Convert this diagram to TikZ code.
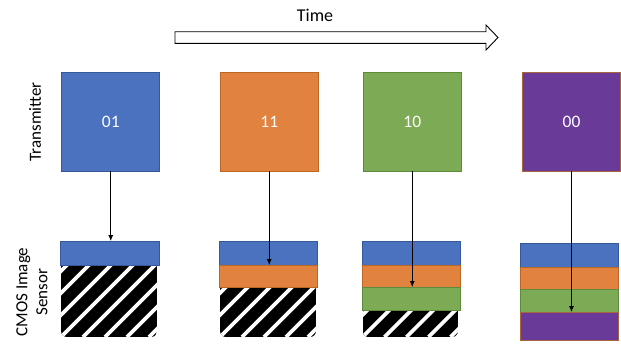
\documentclass[tikz,border=0pt]{standalone}
\usepackage{fontspec}
\setmainfont{Carlito}
\usetikzlibrary{arrows.meta}
\definecolor{cblue}{HTML}{4A72BF}
\definecolor{cblueb}{HTML}{34589A}
\definecolor{corange}{HTML}{E2823F}
\definecolor{coranb}{HTML}{BC6626}
\definecolor{cgreen}{HTML}{7DAA55}
\definecolor{cgreenb}{HTML}{5E8A3C}
\definecolor{cpurple}{HTML}{6A3A98}
\definecolor{cpurpleb}{HTML}{A8643A}
\tikzset{
  sq/.style={draw, line width=0.8pt, minimum width=98pt, minimum height=99pt, inner sep=0pt, outer sep=0pt, text=white, font=\fontsize{17.5}{20}\selectfont},
  bar/.style={draw, line width=0.8pt, minimum width=98.5pt, inner sep=0pt, outer sep=0pt},
  lbl/.style={font=\fontsize{17}{20}\selectfont, align=center, inner sep=0pt},
  link/.style={line width=0.8pt, -{Latex[length=6pt,width=5pt]}},
  stripes/.style={white, line width=3.8pt},
}
\newcommand{\hatchbox}[4]{% x0 y0 x1 y1
  \begin{scope}
    \clip[rounded corners=6pt] (#1,{#2-12}) rectangle (#3,#4);
    \fill[black] (#1,#2) rectangle (#3,#4);
    \foreach \k in {-5,...,6}{
      \draw[stripes] ({#1+\k*22},#4) -- ({#1+\k*22+110},{#4-110});
    }
  \end{scope}
}
\begin{document}
\begin{tikzpicture}[x=1pt,y=-1pt]
\useasboundingbox (0,0) rectangle (621,343);
% time arrow
\node[lbl, font=\fontsize{18}{21}\selectfont] (time) at (315,15) {Time};
\draw[line width=0.9pt, fill=white] (175,31.7) -- (486,31.7) -- (486,25) -- (498,37.5) -- (486,50) -- (486,43.3) -- (175,43.3) -- cycle;
% side labels
\node[lbl, rotate=90] (tx) at (35,122) {Transmitter};
\node[lbl, rotate=90] (rx) at (32,292) {CMOS Image\\Sensor};
% transmitter squares
\node[sq, fill=cblue, draw=cblueb] (t1) at (110.75,121.5) {01};
\node[sq, fill=corange, draw=coranb] (t2) at (269.25,121.5) {11};
\node[sq, fill=cgreen, draw=cgreenb] (t3) at (412.25,121.5) {10};
\node[sq, fill=cpurple, draw=cpurpleb] (t4) at (571.5,121.5) {00};
% sensor column 1
\hatchbox{61}{265}{157}{337}
\node[bar, fill=cblue, draw=cblueb, minimum height=24pt] (s1b) at (110,253) {};
% column 2
\hatchbox{220}{287}{316}{337}
\node[bar, fill=cblue, draw=cblueb, minimum height=24pt] (s2b) at (268.5,253) {};
\node[bar, fill=corange, draw=coranb, minimum height=22pt] (s2o) at (268.5,276) {};
% column 3
\hatchbox{362.5}{310}{458}{337}
\node[bar, fill=cblue, draw=cblueb, minimum height=24pt] (s3b) at (411.5,253) {};
\node[bar, fill=corange, draw=coranb, minimum height=22pt] (s3o) at (411.5,276) {};
\node[bar, fill=cgreen, draw=cgreenb, minimum height=23pt] (s3g) at (411.5,298.5) {};
% column 4
\node[bar, fill=cblue, draw=cblueb, minimum height=24pt] (s4b) at (569.5,255) {};
\node[bar, fill=corange, draw=coranb, minimum height=22pt] (s4o) at (569.5,278) {};
\node[bar, fill=cgreen, draw=cgreenb, minimum height=23pt] (s4g) at (569.5,300.5) {};
\node[bar, fill=cpurple, draw=cpurpleb, minimum height=28pt] (s4p) at (569.5,326) {};
% links
\draw[link] (t1.south) -- (t1.south |- s1b.north);
\draw[link] (t2.south) -- (t2.south |- s2b.south);
\draw[link] (t3.south) -- (t3.south |- s3o.south);
\draw[link] (t4.south) -- (t4.south |- s4g.south);
\end{tikzpicture}
\end{document}
